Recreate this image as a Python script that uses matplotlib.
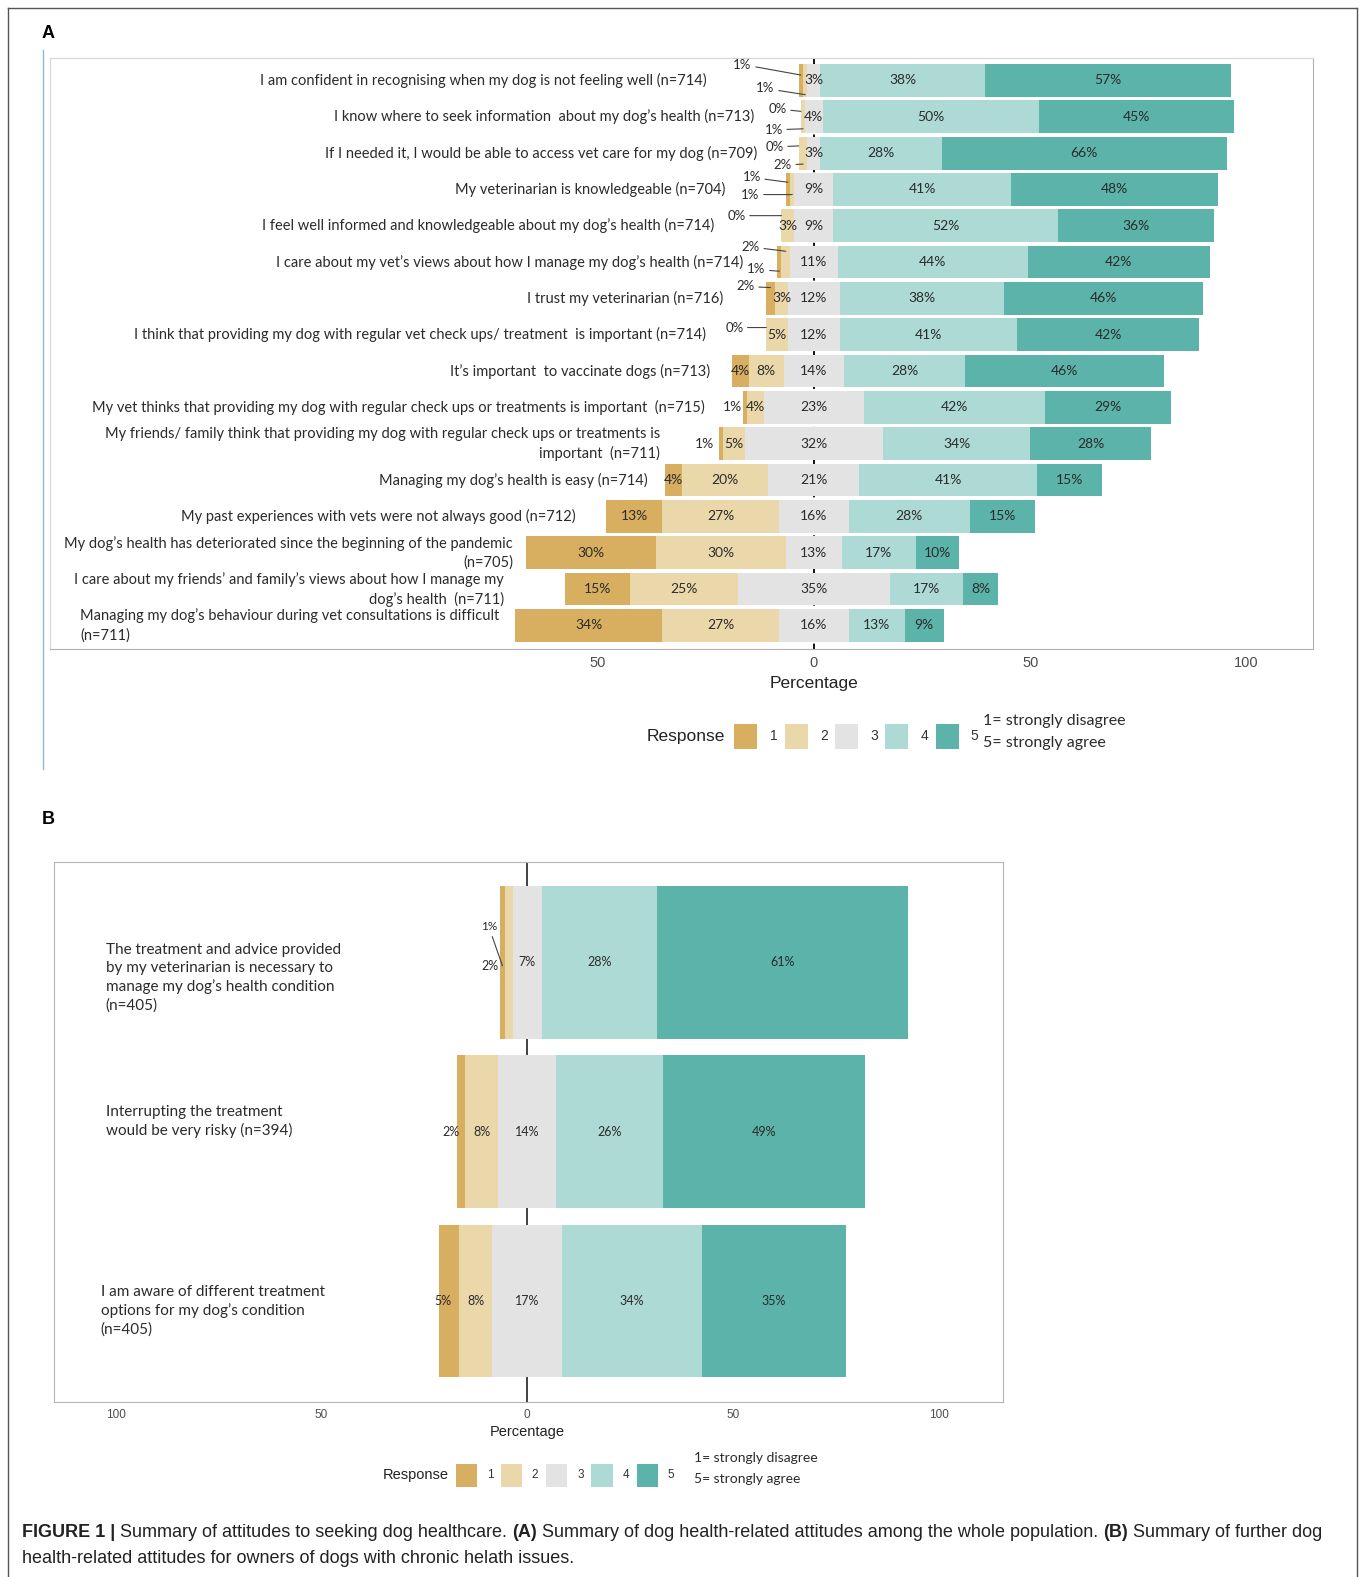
import numpy as np
import matplotlib
matplotlib.use("Agg")
import matplotlib.pyplot as plt
from matplotlib.patches import Rectangle
from matplotlib.lines import Line2D
import matplotlib.transforms as mtransforms

# ---- data: panel A (whole population) ----
items_a = [
    "I am confident in recognising when my dog is not feeling well (n=714)",
    "I know where to seek information  about my dog\u2019s health (n=713)",
    "If I needed it, I would be able to access vet care for my dog (n=709)",
    "My veterinarian is knowledgeable (n=704)",
    "I feel well informed and knowledgeable about my dog\u2019s health (n=714)",
    "I care about my vet\u2019s views about how I manage my dog\u2019s health (n=714)",
    "I trust my veterinarian (n=716)",
    "I think that providing my dog with regular vet check ups/ treatment  is important (n=714)",
    "It\u2019s important  to vaccinate dogs (n=713)",
    "My vet thinks that providing my dog with regular check ups or treatments is important  (n=715)",
    "My friends/ family think that providing my dog with regular check ups or treatments is\nimportant  (n=711)",
    "Managing my dog\u2019s health is easy (n=714)",
    "My past experiences with vets were not always good (n=712)",
    "My dog\u2019s health has deteriorated since the beginning of the pandemic\n(n=705)",
    "I care about my friends\u2019 and family\u2019s views about how I manage my\ndog\u2019s health  (n=711)",
    "Managing my dog\u2019s behaviour during vet consultations is difficult\n(n=711)",
]
resp1_a = [1, 0, 0, 1, 0, 1, 2, 0, 4, 1, 1, 4, 13, 30, 15, 34]
resp2_a = [1, 1, 2, 1, 3, 2, 3, 5, 8, 4, 5, 20, 27, 30, 25, 27]
resp3_a = [3, 4, 3, 9, 9, 11, 12, 12, 14, 23, 32, 21, 16, 13, 35, 16]
resp4_a = [38, 50, 28, 41, 52, 44, 38, 41, 28, 42, 34, 41, 28, 17, 17, 13]
resp5_a = [57, 45, 66, 48, 36, 42, 46, 42, 46, 29, 28, 15, 15, 10, 8, 9]

# ---- data: panel B (owners of dogs with chronic issues) ----
items_b = [
    "The treatment and advice provided\nby my veterinarian is necessary to\nmanage my dog\u2019s health condition\n(n=405)",
    "Interrupting the treatment\nwould be very risky (n=394)",
    "I am aware of different treatment\noptions for my dog\u2019s condition\n(n=405)",
]
resp1_b = [1, 2, 5]
resp2_b = [2, 8, 8]
resp3_b = [7, 14, 17]
resp4_b = [28, 26, 34]
resp5_b = [61, 49, 35]

responses = ["1", "2", "3", "4", "5"]
colors = ["#D8AE60", "#EBD8AA", "#E3E3E3", "#AEDAD5", "#5BB3A9"]

# layout helpers (label gaps, callout offsets)
label_gap_a = [21.4, 10.9, 9.5, 14.0, 15.6, 7.9, 10.0, 14.0, 4.9, 8.8, 13.5, 4.0, 7.0, 3.0, 14.2, 3.7]
label_align_a = ["right"] * 15 + ["left"]
# (row, response, dx, dy, line end dy or None)
callouts_a = [
    (0, 0, -13.5, -0.44, -0.15), (0, 1, -9.2, 0.22, 0.39),
    (1, 0, -5.4, -0.22, -0.15), (1, 1, -6.8, 0.36, 0.33),
    (2, 0, -5.6, -0.17, -0.2), (2, 1, -4.7, 0.33, 0.3),
    (3, 0, -8.4, -0.33, -0.2), (3, 1, -9.7, 0.14, 0.14),
    (4, 0, -10.4, -0.28, -0.28),
    (5, 1, -8.1, -0.42, -0.3), (5, 0, -5.3, 0.2, 0.25),
    (6, 0, -5.8, -0.33, -0.3),
    (7, 0, -7.4, -0.2, -0.2),
    (9, 0, -2.8, 0, None), (10, 0, -3.8, 0, None),
]
callouts_b = [(0, 0, -3.3, -0.21, 0.02), (0, 1, -4.5, 0.02, None),
              (1, 0, -2.4, 0, None), (2, 0, -1.5, 0, None)]
label_x_b = [0.054, 0.054, 0.049]
label_dy_b = [0.09, -0.06, 0.06]

W, H = 1352, 1568
def fx(x):
    return x / W
def fy(y):
    return 1 - y / H

LABEL_FONT = "Lato"
AXIS_FONT = "Liberation Sans"
TXT = "#2b2b2b"


def draw_likert(ax, vals, pct_size, callouts):
    vals = np.array(vals, dtype=float)
    n = vals.shape[1]
    y = np.arange(n)
    left = -(vals[0] + vals[1] + vals[2] / 2)
    starts = left + np.vstack([np.zeros(n), np.cumsum(vals, axis=0)[:-1]])
    for k in range(5):
        ax.barh(y, vals[k], left=starts[k], height=0.9, color=colors[k],
                linewidth=0, zorder=2)
    called = {(c[0], c[1]) for c in callouts}
    for k in range(5):
        for i in range(n):
            v = vals[k, i]
            if (i, k) in called or v == 0:
                continue
            x = 0 if k == 2 else starts[k, i] + v / 2
            ax.text(x, i, f"{v:.0f}%", ha="center", va="center", fontsize=pct_size,
                    family=LABEL_FONT, color=TXT, zorder=3)
    for i, k, dx, dy, end in callouts:
        xc = starts[k, i] + vals[k, i] / 2
        txt = f"{vals[k, i]:.0f}%"
        if end is None:
            ax.text(xc + dx, i + dy, txt, ha="center", va="center", fontsize=pct_size,
                    family=LABEL_FONT, color=TXT, zorder=3)
        else:
            ax.annotate(txt, xy=(xc, i + end), xytext=(xc + dx, i + dy),
                        ha="center", va="center", fontsize=pct_size - 0.5,
                        family=LABEL_FONT, color=TXT, zorder=3,
                        arrowprops=dict(arrowstyle="-", color="#444444", lw=0.8,
                                        shrinkA=1, shrinkB=0))
    return left


fig = plt.figure(figsize=(13.6, 15.77), dpi=100)

# ---------------- panel A ----------------
ax_a = fig.add_axes([fx(50), fy(645), fx(1305) - fx(50), fy(58) - fy(645)])
left_a = draw_likert(ax_a, [resp1_a, resp2_a, resp3_a, resp4_a, resp5_a], 10, callouts_a)
ax_a.axvline(0, color="black", lw=1.3, ls=(0, (3, 3)), zorder=1)
for i, lab in enumerate(items_a):
    ax_a.text(left_a[i] - label_gap_a[i], i, lab, ha="right", va="center",
              multialignment=label_align_a[i], fontsize=10.5, family=LABEL_FONT,
              color=TXT, linespacing=1.4)
ax_a.set_xlim(-176.5, 115.3)
ax_a.set_ylim(15.64, -0.61)
ax_a.set_yticks([])
ax_a.set_xticks([-50, 0, 50, 100])
ax_a.set_xticklabels(["50", "0", "50", "100"], family=AXIS_FONT, fontsize=10.5, color="#4D4D4D")
ax_a.tick_params(axis="x", length=0, pad=5)
for s in ["top", "left"]:
    ax_a.spines[s].set_color("#D5D5D5")
for s in ["bottom", "right"]:
    ax_a.spines[s].set_color("#B0B0B0")
fig.text(fx(809), fy(680), "Percentage", ha="center", va="center", family=AXIS_FONT,
         fontsize=12.5, color="#222222")

# ---------------- panel B ----------------
ax_b = fig.add_axes([fx(54), fy(1394), fx(997) - fx(54), fy(857) - fy(1394)])
draw_likert(ax_b, [resp1_b, resp2_b, resp3_b, resp4_b, resp5_b], 9, callouts_b)
ax_b.axvline(0, color="#333333", lw=1.3, zorder=1)
trans_b = mtransforms.blended_transform_factory(ax_b.transAxes, ax_b.transData)
for i, lab in enumerate(items_b):
    ax_b.text(label_x_b[i], i + label_dy_b[i], lab, ha="left", va="center",
              transform=trans_b, fontsize=11, family=LABEL_FONT, color=TXT,
              linespacing=1.35)
ax_b.set_xlim(-114.9, 115.6)
ax_b.set_ylim(2.60, -0.595)
ax_b.set_yticks([])
ax_b.set_xticks([-100, -50, 0, 50, 100])
ax_b.set_xticklabels(["100", "50", "0", "50", "100"], family=AXIS_FONT, fontsize=8.5, color="#4D4D4D")
ax_b.tick_params(axis="x", length=0, pad=5)
for s in ax_b.spines.values():
    s.set_color("#B5B5B5")
fig.text(fx(524), fy(1424), "Percentage", ha="center", va="center", family=AXIS_FONT,
         fontsize=10.5, color="#222222")

# ---------------- legends ----------------
def legend(x_resp, y, x0, step, pw, ph, lab_dx, resp_size, num_size, note_x, note_y1, note_y2, note_size):
    fig.text(fx(x_resp), fy(y), "Response", ha="right", va="center", family=AXIS_FONT,
             fontsize=resp_size, color="#222222")
    for k, (r, c) in enumerate(zip(responses, colors)):
        xl = x0 + step * k
        fig.add_artist(Rectangle((fx(xl), fy(y + ph / 2)), pw / W, ph / H,
                                 transform=fig.transFigure, color=c, lw=0))
        fig.text(fx(xl + lab_dx), fy(y), r, ha="center", va="center", family=AXIS_FONT,
                 fontsize=num_size, color="#333333")
    fig.text(fx(note_x), fy(note_y1), "1= strongly disagree", ha="left", va="center",
             family=LABEL_FONT, fontsize=note_size, color=TXT)
    fig.text(fx(note_x), fy(note_y2), "5= strongly agree", ha="left", va="center",
             family=LABEL_FONT, fontsize=note_size, color=TXT)

legend(721, 732, 730, 50, 23, 25, 39, 12.5, 10, 977, 717, 739, 11.5)
legend(446, 1467, 453, 45, 21, 23, 34, 10.5, 8.5, 690, 1450, 1471, 10)

# ---------------- panel letters, frame ----------------
fig.text(fx(48), fy(33), "A", ha="center", va="center", family=AXIS_FONT, fontsize=13, weight="bold")
fig.text(fx(48), fy(815), "B", ha="center", va="center", family=AXIS_FONT, fontsize=13, weight="bold")
fig.add_artist(Line2D([fx(8), fx(8)], [fy(8), fy(1580)], color="#555555", lw=1))
fig.add_artist(Line2D([fx(8), fx(1349)], [fy(8), fy(8)], color="#555555", lw=1))
fig.add_artist(Line2D([fx(1349), fx(1349)], [fy(8), fy(1580)], color="#555555", lw=1))
fig.add_artist(Line2D([fx(43), fx(43)], [fy(50), fy(765)], color="#8FB8DE", lw=1))

# ---------------- caption with mixed bold ----------------
cap1 = [("FIGURE 1 |", True), ("Summary of attitudes to seeking dog healthcare.", False),
        ("(A)", True), ("Summary of dog health-related attitudes among the whole population.", False),
        ("(B)", True), ("Summary of further dog", False)]
cap2 = [("health-related attitudes for owners of dogs with chronic helath issues.", False)]

fig.canvas.draw()
rend = fig.canvas.get_renderer()

def text_w(s, size, bold):
    t = fig.text(0, 0, s, family=AXIS_FONT, fontsize=size, weight="bold" if bold else "normal")
    w = t.get_window_extent(renderer=rend).width
    t.remove()
    return w

def line_w(pieces, size):
    sp = text_w("a a", size, False) - text_w("aa", size, False)
    return sum(text_w(s, size, b) for s, b in pieces) + sp * (len(pieces) - 1)

target = (1322 - 22) / W * fig.bbox.width
cap_size = 12 * target / line_w(cap1, 12)

def rich_line(pieces, x, y, size):
    sp = text_w("a a", size, False) - text_w("aa", size, False)
    xp = fx(x) * fig.bbox.width
    for s, b in pieces:
        fig.text(xp / fig.bbox.width, fy(y), s, ha="left", va="center", family=AXIS_FONT,
                 fontsize=size, weight="bold" if b else "normal", color="#222222")
        xp += text_w(s, size, b) + sp

rich_line(cap1, 22, 1524, cap_size)
rich_line(cap2, 22, 1550, cap_size)

fig.savefig("out.png", dpi=100)
